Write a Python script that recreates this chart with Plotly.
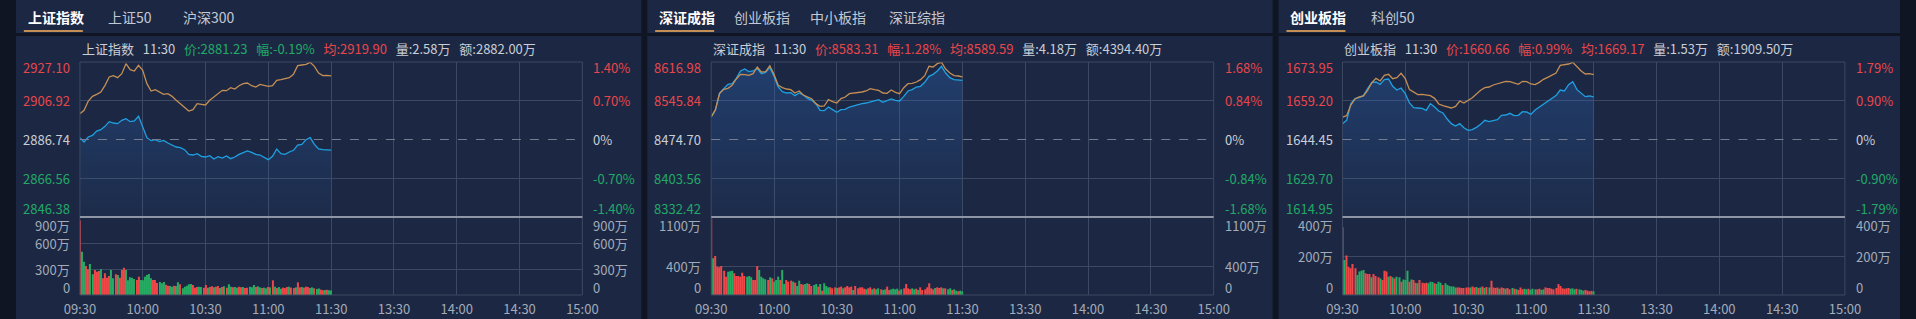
import plotly.graph_objects as go

W, H = 1916, 319

# ------------------------------------------------------------------ data
line_minutes = list(range(0, 121, 2))      # minute offsets from 09:30 (2-minute samples)
vol_minutes = list(range(0, 121))          # one volume bar per minute
time_ticks = [0, 30, 60, 90, 120, 150, 180, 210, 240]
time_labels = ["09:30", "10:00", "10:30", "11:00", "11:30", "13:30", "14:00", "14:30", "15:00"]

# --- 上证指数
sh_tabs = ["上证指数", "上证50", "沪深300"]
sh_tab_x = [10, 92, 168]
sh_info = [("上证指数", "w"), ("11:30", "w"), ("价:2881.23", "g"), ("幅:-0.19%", "g"),
           ("均:2919.90", "r"), ("量:2.58万", "w"), ("额:2882.00万", "w")]
sh_prev_close = 2886.74
sh_price_ticks = [2846.38, 2866.56, 2886.74, 2906.92, 2927.10]
sh_pct_ticks = ["-1.40%", "-0.70%", "0%", "0.70%", "1.40%"]
sh_vol_ticks = [0, 300, 600, 900]
sh_price = [2887.69, 2885.44, 2888.04, 2888.91, 2891.16, 2891.86, 2893.60, 2896.03, 2895.33, 2894.98,
            2896.72, 2897.59, 2896.03, 2896.37, 2898.80, 2893.60, 2887.69, 2886.13, 2886.65, 2885.61,
            2886.30, 2884.92, 2883.87, 2882.83, 2882.48, 2881.44, 2879.01, 2878.67, 2879.36, 2877.97,
            2877.62, 2878.32, 2876.58, 2877.80, 2877.10, 2878.14, 2876.76, 2877.62, 2879.01, 2880.05,
            2880.75, 2880.05, 2879.01, 2878.67, 2877.62, 2876.24, 2877.97, 2881.79, 2879.36, 2879.01,
            2880.23, 2881.10, 2883.87, 2884.22, 2886.65, 2887.69, 2884.22, 2881.79, 2881.44, 2881.44,
            2881.23]
sh_avg = [2900.19, 2901.93, 2906.79, 2909.22, 2910.26, 2911.48, 2914.95, 2919.29, 2919.98, 2918.94,
          2921.02, 2926.23, 2923.11, 2922.41, 2925.36, 2922.76, 2915.82, 2912.00, 2912.69, 2911.30,
          2910.26, 2910.61, 2909.22, 2907.14, 2905.40, 2903.66, 2901.58, 2902.28, 2905.40, 2905.05,
          2904.71, 2907.14, 2908.87, 2910.61, 2912.34, 2912.17, 2913.73, 2913.04, 2914.77, 2915.82,
          2916.16, 2914.77, 2914.08, 2915.47, 2915.12, 2914.43, 2914.77, 2917.55, 2917.90, 2918.25,
          2918.94, 2920.68, 2925.19, 2925.54, 2925.88, 2926.93, 2924.84, 2921.37, 2919.98, 2920.16,
          2919.90]
sh_vol = [860, 500, 385, 335, 296, 358, 238, 289, 269, 277,
          296, 192, 250, 200, 219, 289, 192, 238, 231, 200,
          289, 315, 289, 169, 204, 200, 185, 173, 212, 173,
          169, 212, 231, 242, 192, 173, 173, 138, 150, 135,
          150, 119, 108, 104, 96, 108, 104, 146, 123, 77,
          96, 108, 123, 127, 115, 85, 92, 96, 92, 85,
          115, 85, 92, 100, 88, 96, 104, 80, 92, 100,
          85, 123, 96, 88, 92, 85, 96, 88, 92, 80,
          85, 96, 88, 115, 92, 100, 88, 80, 85, 77,
          92, 88, 169, 96, 80, 92, 72, 85, 80, 92,
          96, 85, 80, 88, 146, 88, 92, 85, 96, 92,
          80, 88, 78, 70, 75, 62, 55, 58, 60, 55,
          52]
sh_dir = ("rggrrggrrr" "grrrrggrgr" "rrgggggrrg" "gggggrrrgg" "grrggrggrg"
          "ggggrrrggr" "rgrrgrrgrg" "rggrggrrgr" "rgggrggrgg" "rgrgrggrrr"
          "grrgrrgrrr" "ggrggrrgrg" "g")

# --- 深证成指
sz_tabs = ["深证成指", "创业板指", "中小板指", "深证综指"]
sz_tab_x = [10, 86, 163, 244]
sz_info = [("深证成指", "w"), ("11:30", "w"), ("价:8583.31", "r"), ("幅:1.28%", "r"),
           ("均:8589.59", "r"), ("量:4.18万", "w"), ("额:4394.40万", "w")]
sz_prev_close = 8474.70
sz_price_ticks = [8332.42, 8403.56, 8474.70, 8545.84, 8616.98]
sz_pct_ticks = ["-1.68%", "-0.84%", "0%", "0.84%", "1.68%"]
sz_vol_ticks = [0, 400, 1100]
sz_price = [8516.00, 8528.24, 8560.06, 8567.41, 8575.98, 8577.20, 8586.99, 8600.46, 8604.13, 8599.23,
            8600.46, 8604.74, 8595.56, 8598.01, 8606.58, 8590.66, 8571.08, 8562.51, 8560.06, 8560.68,
            8555.17, 8560.06, 8556.39, 8550.27, 8546.60, 8540.48, 8528.24, 8527.63, 8534.36, 8529.46,
            8524.57, 8529.46, 8530.08, 8534.36, 8536.81, 8539.26, 8540.48, 8541.70, 8544.15, 8546.60,
            8547.82, 8542.93, 8545.38, 8549.05, 8546.60, 8545.38, 8553.94, 8563.74, 8566.18, 8571.08,
            8572.30, 8579.65, 8590.66, 8594.34, 8600.46, 8609.02, 8596.78, 8588.22, 8584.54, 8584.00,
            8583.31]
sz_avg = [8516.00, 8529.46, 8558.84, 8566.80, 8568.63, 8574.14, 8585.77, 8594.34, 8593.72, 8592.50,
          8595.56, 8607.80, 8598.62, 8599.23, 8610.25, 8594.34, 8574.14, 8569.86, 8567.41, 8566.18,
          8560.06, 8563.74, 8556.39, 8552.72, 8549.66, 8540.48, 8535.58, 8536.20, 8547.82, 8544.15,
          8541.70, 8549.66, 8552.72, 8558.84, 8559.45, 8560.06, 8561.90, 8563.74, 8568.02, 8566.18,
          8564.96, 8560.06, 8559.45, 8565.57, 8561.29, 8558.84, 8569.86, 8577.20, 8577.81, 8580.26,
          8584.54, 8591.89, 8609.02, 8607.80, 8613.92, 8616.37, 8604.13, 8596.78, 8591.89, 8591.28,
          8589.59]
sz_vol = [1080, 517, 550, 400, 390, 409, 343, 259, 329, 334,
          343, 306, 268, 268, 259, 315, 268, 259, 268, 249,
          212, 212, 409, 353, 259, 235, 221, 212, 249, 235,
          188, 212, 259, 212, 353, 155, 212, 188, 202, 188,
          174, 127, 202, 155, 146, 155, 165, 155, 127, 141,
          155, 118, 155, 61, 165, 127, 108, 108, 94, 108,
          99, 108, 118, 94, 108, 127, 108, 118, 70, 127,
          94, 108, 108, 89, 80, 94, 108, 80, 94, 80,
          94, 80, 70, 80, 118, 70, 80, 89, 80, 89,
          61, 80, 94, 155, 94, 80, 94, 80, 89, 70,
          108, 70, 80, 108, 165, 94, 80, 99, 108, 99,
          108, 94, 94, 80, 94, 70, 80, 61, 52, 61,
          52]
sz_dir = ("rgrrrrrrgg" "grrrrrrggg" "rrrggggrgr" "gggrggrrrg" "rggrrggrrg"
          "grgrgggrrr" "grrgrrrrgr" "rrrrgrrgrg" "grggrrgggg" "rgrrrrggrg"
          "rrrrrrrgrr" "rgrggrggrg" "g")

# --- 创业板指
cy_tabs = ["创业板指", "科创50"]
cy_tab_x = [10, 92]
cy_info = [("创业板指", "w"), ("11:30", "w"), ("价:1660.66", "r"), ("幅:0.99%", "r"),
           ("均:1669.17", "r"), ("量:1.53万", "w"), ("额:1909.50万", "w")]
cy_prev_close = 1644.45
cy_price_ticks = [1614.95, 1629.70, 1644.45, 1659.20, 1673.95]
cy_pct_ticks = ["-1.79%", "-0.90%", "0%", "0.90%", "1.79%"]
cy_vol_ticks = [0, 200, 400]
cy_price = [1650.48, 1651.75, 1658.09, 1659.99, 1660.37, 1661.14, 1663.80, 1666.08, 1666.34, 1665.45,
            1667.23, 1667.48, 1664.69, 1663.29, 1664.05, 1661.90, 1658.34, 1656.57, 1656.44, 1656.31,
            1655.55, 1658.09, 1656.82, 1655.30, 1654.54, 1652.25, 1650.48, 1649.59, 1650.48, 1648.95,
            1647.94, 1648.19, 1649.08, 1650.22, 1651.75, 1651.24, 1651.62, 1652.00, 1653.65, 1653.78,
            1654.41, 1653.52, 1653.65, 1655.04, 1654.92, 1654.03, 1655.68, 1656.82, 1657.71, 1658.98,
            1659.99, 1661.14, 1663.29, 1662.91, 1665.32, 1666.46, 1663.42, 1661.90, 1660.75, 1661.01,
            1660.66]
cy_avg = [1653.01, 1653.52, 1657.58, 1659.87, 1660.63, 1661.01, 1663.17, 1666.08, 1667.73, 1666.72,
          1668.87, 1669.26, 1667.61, 1667.99, 1669.64, 1667.61, 1663.42, 1662.40, 1661.52, 1661.64,
          1661.26, 1661.14, 1660.12, 1657.96, 1657.33, 1656.82, 1656.44, 1657.07, 1659.11, 1658.34,
          1659.36, 1660.37, 1661.77, 1663.17, 1664.18, 1664.43, 1665.20, 1665.58, 1666.08, 1666.59,
          1666.46, 1665.83, 1665.45, 1666.59, 1666.46, 1665.58, 1665.32, 1666.21, 1667.35, 1668.11,
          1668.87, 1669.76, 1672.68, 1672.81, 1673.19, 1673.82, 1672.05, 1670.52, 1669.38, 1669.51,
          1669.17]
cy_vol = [347, 179, 203, 145, 137, 159, 137, 103, 120, 125,
          128, 111, 108, 108, 91, 108, 97, 91, 85, 77,
          125, 120, 94, 97, 91, 85, 94, 91, 68, 80,
          77, 125, 68, 80, 77, 63, 60, 77, 63, 60,
          63, 60, 68, 67, 60, 56, 68, 63, 51, 60,
          51, 46, 43, 43, 39, 39, 39, 36, 36, 39,
          39, 39, 43, 39, 41, 36, 39, 43, 36, 41,
          39, 73, 39, 36, 39, 32, 39, 36, 32, 36,
          29, 36, 32, 29, 26, 39, 29, 32, 29, 32,
          26, 32, 29, 29, 32, 26, 29, 39, 36, 36,
          32, 29, 36, 56, 46, 34, 32, 34, 36, 32,
          34, 29, 32, 29, 26, 22, 26, 22, 19, 21,
          19]
cy_dir = ("rgrrrrrggg" "grrrgrrrgr" "rrgrgrggrg" "ggrgrrgrrr" "rgggrgggrg"
          "gggggrrrrr" "rgrrgrgrgr" "grrrrgrrgr" "rgrgrrrggr" "gggrrggrrr"
          "rrrrrrrrrg" "ggrgggrrrr" "g")

# ------------------------------------------------------------------ style
FONT = "Noto Sans CJK SC, Microsoft YaHei, sans-serif"
BG = "#1c2843"
SEP = "#0f1522"
GRID = "#3d4862"
TEXT = "#c9ced7"
AXTXT = "#a3abb9"
RED = "#e8464b"
GREEN = "#22a968"
BAR_RED = "#f04848"
BAR_GREEN = "#27ad63"
BLUE = "#1fa0e2"
TAN = "#c48e55"
COL = {"w": TEXT, "r": RED, "g": GREEN}

PLOT_L, PLOT_R = 65, 576          # relative to panel left
P_TOP, P_BOT, V_BOT = 62, 217, 295

panels = [
    dict(x0=0, x1=636, tabs=sh_tabs, tab_x=sh_tab_x, info=sh_info, prev=sh_prev_close,
         pt=sh_price_ticks, pct=sh_pct_ticks, vt=sh_vol_ticks, price=sh_price, avg=sh_avg,
         vol=sh_vol, dirs=sh_dir),
    dict(x0=642, x1=1278, tabs=sz_tabs, tab_x=sz_tab_x, info=sz_info, prev=sz_prev_close,
         pt=sz_price_ticks, pct=sz_pct_ticks, vt=sz_vol_ticks, price=sz_price, avg=sz_avg,
         vol=sz_vol, dirs=sz_dir),
    dict(x0=1284, x1=1916, tabs=cy_tabs, tab_x=cy_tab_x, info=cy_info, prev=cy_prev_close,
         pt=cy_price_ticks, pct=cy_pct_ticks, vt=cy_vol_ticks, price=cy_price, avg=cy_avg,
         vol=cy_vol, dirs=cy_dir),
]


def px(x):
    return x / W


def py(y):
    return 1 - y / H


fig = go.Figure()
shapes, annotations = [], []
layout_axes = {}

for i, p in enumerate(panels):
    xn = "" if i == 0 else str(i + 1)
    yp = str(2 * i + 1) if i > 0 else ""
    yv = str(2 * i + 2)
    x0 = p["x0"]
    L, R = x0 + PLOT_L, x0 + PLOT_R
    pmin, pmax = p["pt"][0], p["pt"][-1]
    vmax = p["vt"][-1]

    # traces
    fig.add_trace(go.Scatter(
        x=line_minutes, y=p["price"], mode="lines", line=dict(color=BLUE, width=1.3),
        fill="tozeroy",
        fillgradient=dict(type="vertical", start=pmin, stop=pmax,
                          colorscale=[[0, "rgba(45,110,200,0.05)"], [1, "rgba(45,110,200,0.32)"]]),
        xaxis="x" + xn, yaxis="y" + yp, hoverinfo="skip"))
    fig.add_trace(go.Scatter(
        x=line_minutes, y=p["avg"], mode="lines", line=dict(color=TAN, width=1.3),
        xaxis="x" + xn, yaxis="y" + yp, hoverinfo="skip"))
    fig.add_trace(go.Bar(
        x=vol_minutes, y=p["vol"], width=0.5,
        marker=dict(color=[BAR_RED if d == "r" else BAR_GREEN for d in p["dirs"]], line=dict(width=0)),
        xaxis="x" + xn, yaxis="y" + yv, hoverinfo="skip"))

    # axes
    layout_axes["xaxis" + xn] = dict(
        domain=[px(L), px(R)], range=[0, 240], anchor="y" + yv,
        tickmode="array", tickvals=time_ticks, ticktext=time_labels,
        showgrid=True, gridcolor=GRID, gridwidth=1, zeroline=False, showline=False,
        ticks="", ticklabelstandoff=5,
        tickfont=dict(family=FONT, size=13, color=AXTXT), fixedrange=True)
    layout_axes["yaxis" + yp] = dict(
        domain=[py(P_BOT), py(P_TOP)], range=[pmin, pmax], anchor="x" + xn,
        tickmode="array", tickvals=[p["pt"][1], p["pt"][3]], showticklabels=False,
        showgrid=True, gridcolor=GRID, zeroline=False, showline=False, ticks="", fixedrange=True)
    layout_axes["yaxis" + yv] = dict(
        domain=[py(V_BOT), py(P_BOT)], range=[0, vmax], anchor="x" + xn,
        tickmode="array", tickvals=p["vt"][1:-1], showticklabels=False,
        showgrid=True, gridcolor=GRID, zeroline=False, showline=False, ticks="", fixedrange=True)

    # panel background, tab strip divider, tab underline
    shapes.append(dict(type="rect", xref="paper", yref="paper", x0=px(x0), x1=px(p["x1"]),
                       y0=0, y1=1, fillcolor=BG, line=dict(width=0), layer="below"))
    shapes.append(dict(type="rect", xref="paper", yref="paper", x0=px(x0), x1=px(p["x1"]),
                       y0=py(36), y1=py(33), fillcolor=SEP, line=dict(width=0), layer="below"))
    shapes.append(dict(type="rect", xref="paper", yref="paper", x0=px(x0 + 8), x1=px(x0 + 68),
                       y0=py(32), y1=py(30), fillcolor=TAN, line=dict(width=0), layer="below"))
    # frame
    for (a, b, c, d) in [(L, P_TOP, R, P_TOP), (L, P_TOP, L, V_BOT), (R, P_TOP, R, V_BOT),
                         (L, V_BOT, R, V_BOT)]:
        shapes.append(dict(type="line", xref="paper", yref="paper", x0=px(a), y0=py(b),
                           x1=px(c), y1=py(d), line=dict(color=GRID, width=1), layer="above"))
    shapes.append(dict(type="line", xref="paper", yref="paper", x0=px(L), x1=px(R),
                       y0=py(P_BOT), y1=py(P_BOT), line=dict(color="#8e96a6", width=2),
                       layer="above"))
    # previous close dashed line
    shapes.append(dict(type="line", xref="x" + xn + " domain", yref="y" + yp, x0=0, x1=1,
                       y0=p["prev"], y1=p["prev"], line=dict(color="#747d90", width=1, dash="dash"),
                       layer="above"))

    # tabs
    for j, (t, tx) in enumerate(zip(p["tabs"], p["tab_x"])):
        annotations.append(dict(
            xref="paper", yref="paper", x=px(x0 + tx), y=py(17), xanchor="left", yanchor="middle",
            text=f"<b>{t}</b>" if j == 0 else t, showarrow=False,
            font=dict(family=FONT, size=14, color="#ffffff" if j == 0 else "#c3c9d4")))
    # info line
    info_txt = "\u00a0\u00a0\u00a0".join(
        f"<span style='color:{COL[c]}'>{t}</span>" for t, c in p["info"])
    annotations.append(dict(xref="paper", yref="paper", x=px(L), y=py(48), xanchor="left",
                            yanchor="middle", text=info_txt, showarrow=False,
                            font=dict(family=FONT, size=13, color=TEXT)))

    # price axis labels (left) and percent labels (right)
    pcols = [GREEN, GREEN, TEXT, RED, RED]
    for k, (v, pc) in enumerate(zip(p["pt"], p["pct"])):
        shift = 9 if k == 0 else (-5 if k == 4 else 0)
        annotations.append(dict(xref="paper", yref="y" + yp, x=px(L - 8), y=v, xanchor="right",
                                yanchor="middle", yshift=shift, text=f"{v:.2f}", showarrow=False,
                                font=dict(family=FONT, size=13, color=pcols[k])))
        annotations.append(dict(xref="paper", yref="y" + yp, x=px(R + 9), y=v, xanchor="left",
                                yanchor="middle", yshift=shift, text=pc, showarrow=False,
                                font=dict(family=FONT, size=13, color=pcols[k])))
    # volume labels
    n = len(p["vt"])
    for k, v in enumerate(p["vt"]):
        shift = 8 if k == 0 else (-8 if k == n - 1 else 0)
        txt = "0" if v == 0 else f"{v}万"
        for xx, anc in [(px(L - 8), "right"), (px(R + 9), "left")]:
            annotations.append(dict(xref="paper", yref="y" + yv, x=xx, y=v, xanchor=anc,
                                    yanchor="middle", yshift=shift, text=txt, showarrow=False,
                                    font=dict(family=FONT, size=13, color=AXTXT)))

fig.update_layout(
    width=W, height=H, margin=dict(l=0, r=0, t=0, b=0),
    paper_bgcolor=SEP, plot_bgcolor="rgba(0,0,0,0)",
    showlegend=False, barmode="overlay",
    shapes=shapes, annotations=annotations,
    font=dict(family=FONT, color=TEXT),
    **layout_axes)

fig.write_html("out.html", config={"displayModeBar": False})
